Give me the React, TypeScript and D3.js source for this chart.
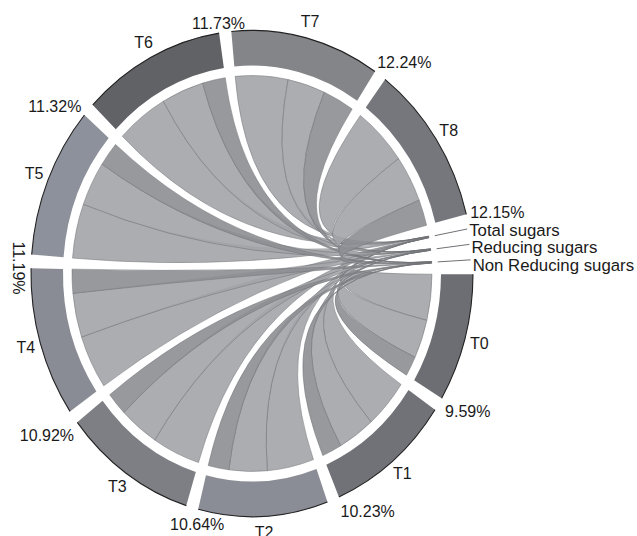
import React from 'react';
import * as d3 from 'd3';

// Treatments (outer sectors) and their share of the whole
const treatments = ['T0', 'T1', 'T2', 'T3', 'T4', 'T5', 'T6', 'T7', 'T8'];
const sharePct = [9.59, 10.23, 10.64, 10.92, 11.19, 11.32, 11.73, 12.24, 12.15];

// Sugar fractions linked from every treatment
const sugars = ['Total sugars', 'Reducing sugars', 'Non Reducing sugars'];
const totalSugars = [8.12, 8.46, 8.71, 8.9, 9.08, 9.17, 9.42, 9.8, 9.73];
const reducingSugars = [6.83, 6.95, 7.11, 7.32, 7.43, 7.5, 7.71, 7.02, 7.64];
const nonReducingSugars = [3.51, 3.72, 3.88, 3.95, 4.02, 4.11, 4.18, 5.85, 4.25];

const ringColors = ['#6c6e73', '#707277', '#8a8d96', '#7d7f84', '#898c95', '#8d919b', '#616266', '#838589', '#75777c'];
const ribbonColors = ['#a2a4a8', '#a2a4a8', '#8c8e92'];

const W = 637;
const H = 536;
const CX = 252;
const CY = 273.5;
const SY = 1.1; // vertical stretch of the circle
const R_OUT = 221;
const R_IN = 189;
const R_RIB = 180;
const GAP = 3.2; // degrees between sectors
const SUGAR_W = 0.5; // degrees of each sugar sector
const START = 90.2; // T0 starts at 3 o'clock
const LABEL_STEP = 17.5; // minimum vertical spacing of sugar names

const rad = (deg: number) => (deg * Math.PI) / 180;

type Sector = { start: number; end: number };

function layout() {
  const span = 360 - 12 * GAP - 3 * SUGAR_W;
  const shareSum = d3.sum(sharePct);
  let cursor = START;
  const tSectors: Sector[] = sharePct.map((p) => {
    const s = { start: cursor, end: cursor + (p / shareSum) * span };
    cursor = s.end + GAP;
    return s;
  });
  const sSectors: Sector[] = sugars.map(() => {
    const s = { start: cursor, end: cursor + SUGAR_W };
    cursor = s.end + GAP;
    return s;
  });
  return { tSectors, sSectors };
}

const sugarValues = [totalSugars, reducingSugars, nonReducingSugars];

function pagePt(angleDeg: number, r: number): [number, number] {
  const a = rad(angleDeg);
  return [CX + r * Math.sin(a), CY - SY * r * Math.cos(a)];
}

export default function App() {
  const { tSectors, sSectors } = layout();

  // source sub-arcs within each treatment
  const srcArcs = treatments.map((_, i) => {
    const vals = sugarValues.map((arr) => arr[i]);
    const sc = d3.scaleLinear().domain([0, d3.sum(vals)]).range([tSectors[i].start, tSectors[i].end]);
    let acc = 0;
    return vals.map((v) => {
      const a0 = sc(acc);
      acc += v;
      return { start: a0, end: sc(acc) };
    });
  });

  // target sub-arcs within each sugar sector (sources in reverse order)
  const tgtArcs = sugars.map((_, j) => {
    const vals = sugarValues[j];
    const sc = d3.scaleLinear().domain([0, d3.sum(vals)]).range([sSectors[j].start, sSectors[j].end]);
    const out: Sector[] = new Array(treatments.length);
    let acc = 0;
    for (let i = treatments.length - 1; i >= 0; i--) {
      const a0 = sc(acc);
      acc += vals[i];
      out[i] = { start: a0, end: sc(acc) };
    }
    return out;
  });

  const ribbon = d3.ribbon<any, any>().radius(R_RIB);
  const ringArc = d3.arc<any>().innerRadius(R_IN).outerRadius(R_OUT);

  const ribbons: { d: string; fill: string; key: string }[] = [];
  treatments.forEach((t, i) => {
    sugars.forEach((s, j) => {
      const src = srcArcs[i][j];
      const tgt = tgtArcs[j][i];
      const d = ribbon({
        source: { startAngle: rad(src.start), endAngle: rad(src.end) },
        target: { startAngle: rad(tgt.start), endAngle: rad(tgt.end) },
      }) as unknown as string;
      ribbons.push({ d, fill: ribbonColors[j], key: `${t}-${j}` });
    });
  });

  const outerLine = (s: Sector) => {
    const p = d3.path();
    p.arc(0, 0, R_OUT, rad(s.start) - Math.PI / 2, rad(s.end) - Math.PI / 2);
    return p.toString();
  };

  // sugar names: spread downward so they do not collide
  let prevY = -Infinity;
  const sugarLabels = sSectors.map((s, j) => {
    const mid = (s.start + s.end) / 2;
    const [x0, y0] = pagePt(mid, 186);
    const [x1, y1] = pagePt(mid, 219);
    const [lx, ly0] = pagePt(mid, 221);
    const ly = Math.max(ly0, prevY + LABEL_STEP);
    prevY = ly;
    return { name: sugars[j], x0, y0, x1, y1, lx, ly: ly + 1.5 };
  });

  const font = "'Liberation Sans', Arial, sans-serif";

  return (
    <svg width={W} height={H} style={{ position: 'absolute', left: 0, top: 0, background: '#fff' }} fontFamily={font}>
      <g transform={`translate(${CX},${CY}) scale(1,${SY})`}>
        {ribbons.map((r) => (
          <path key={r.key} d={r.d} fill={r.fill} fillOpacity={0.9} stroke="#6f7175" strokeWidth={0.5} vectorEffect="non-scaling-stroke" />
        ))}
        {tSectors.map((s, i) => (
          <g key={treatments[i]}>
            <path d={ringArc({ startAngle: rad(s.start), endAngle: rad(s.end) }) as string} fill={ringColors[i]} />
            <path d={outerLine(s)} fill="none" stroke="#222" strokeWidth={1.1} vectorEffect="non-scaling-stroke" />
          </g>
        ))}
      </g>
      {sugarLabels.map((l) => (
        <g key={l.name}>
          <line x1={l.x0} y1={l.y0} x2={l.x1} y2={l.y1} stroke="#6f7175" strokeWidth={1} />
          <text x={l.lx} y={l.ly} dy="0.35em" fontSize={16.8} fill="#1a1a1a">
            {l.name}
          </text>
        </g>
      ))}
      {tSectors.map((s, i) => {
        const mid = (s.start + s.end) / 2;
        const [x, y] = pagePt(mid, 236);
        return (
          <text key={treatments[i]} x={x} y={y} dy="0.35em" textAnchor="middle" fontSize={16} fill="#1a1a1a">
            {treatments[i]}
          </text>
        );
      })}
      {tSectors.map((s, i) => {
        const a = rad(s.end);
        const [x, y] = pagePt(s.end, 225);
        const label = `${sharePct[i].toFixed(2)}%`;
        if (Math.abs(Math.cos(a)) < 0.1) {
          return (
            <text key={label} x={x} y={y} dy="0.9em" textAnchor="middle" fontSize={16} fill="#1a1a1a" transform={`rotate(90,${x},${y})`}>
              {label}
            </text>
          );
        }
        const sin = Math.sin(a);
        const cos = Math.cos(a);
        const anchor = sin > 0.3 ? 'start' : sin < -0.3 ? 'end' : 'middle';
        const dy = Math.abs(cos) < 0.3 ? '0.3em' : cos > 0 ? '0em' : '1em';
        return (
          <text key={label} x={x} y={y} dy={dy} textAnchor={anchor} fontSize={16} fill="#1a1a1a">
            {label}
          </text>
        );
      })}
    </svg>
  );
}
